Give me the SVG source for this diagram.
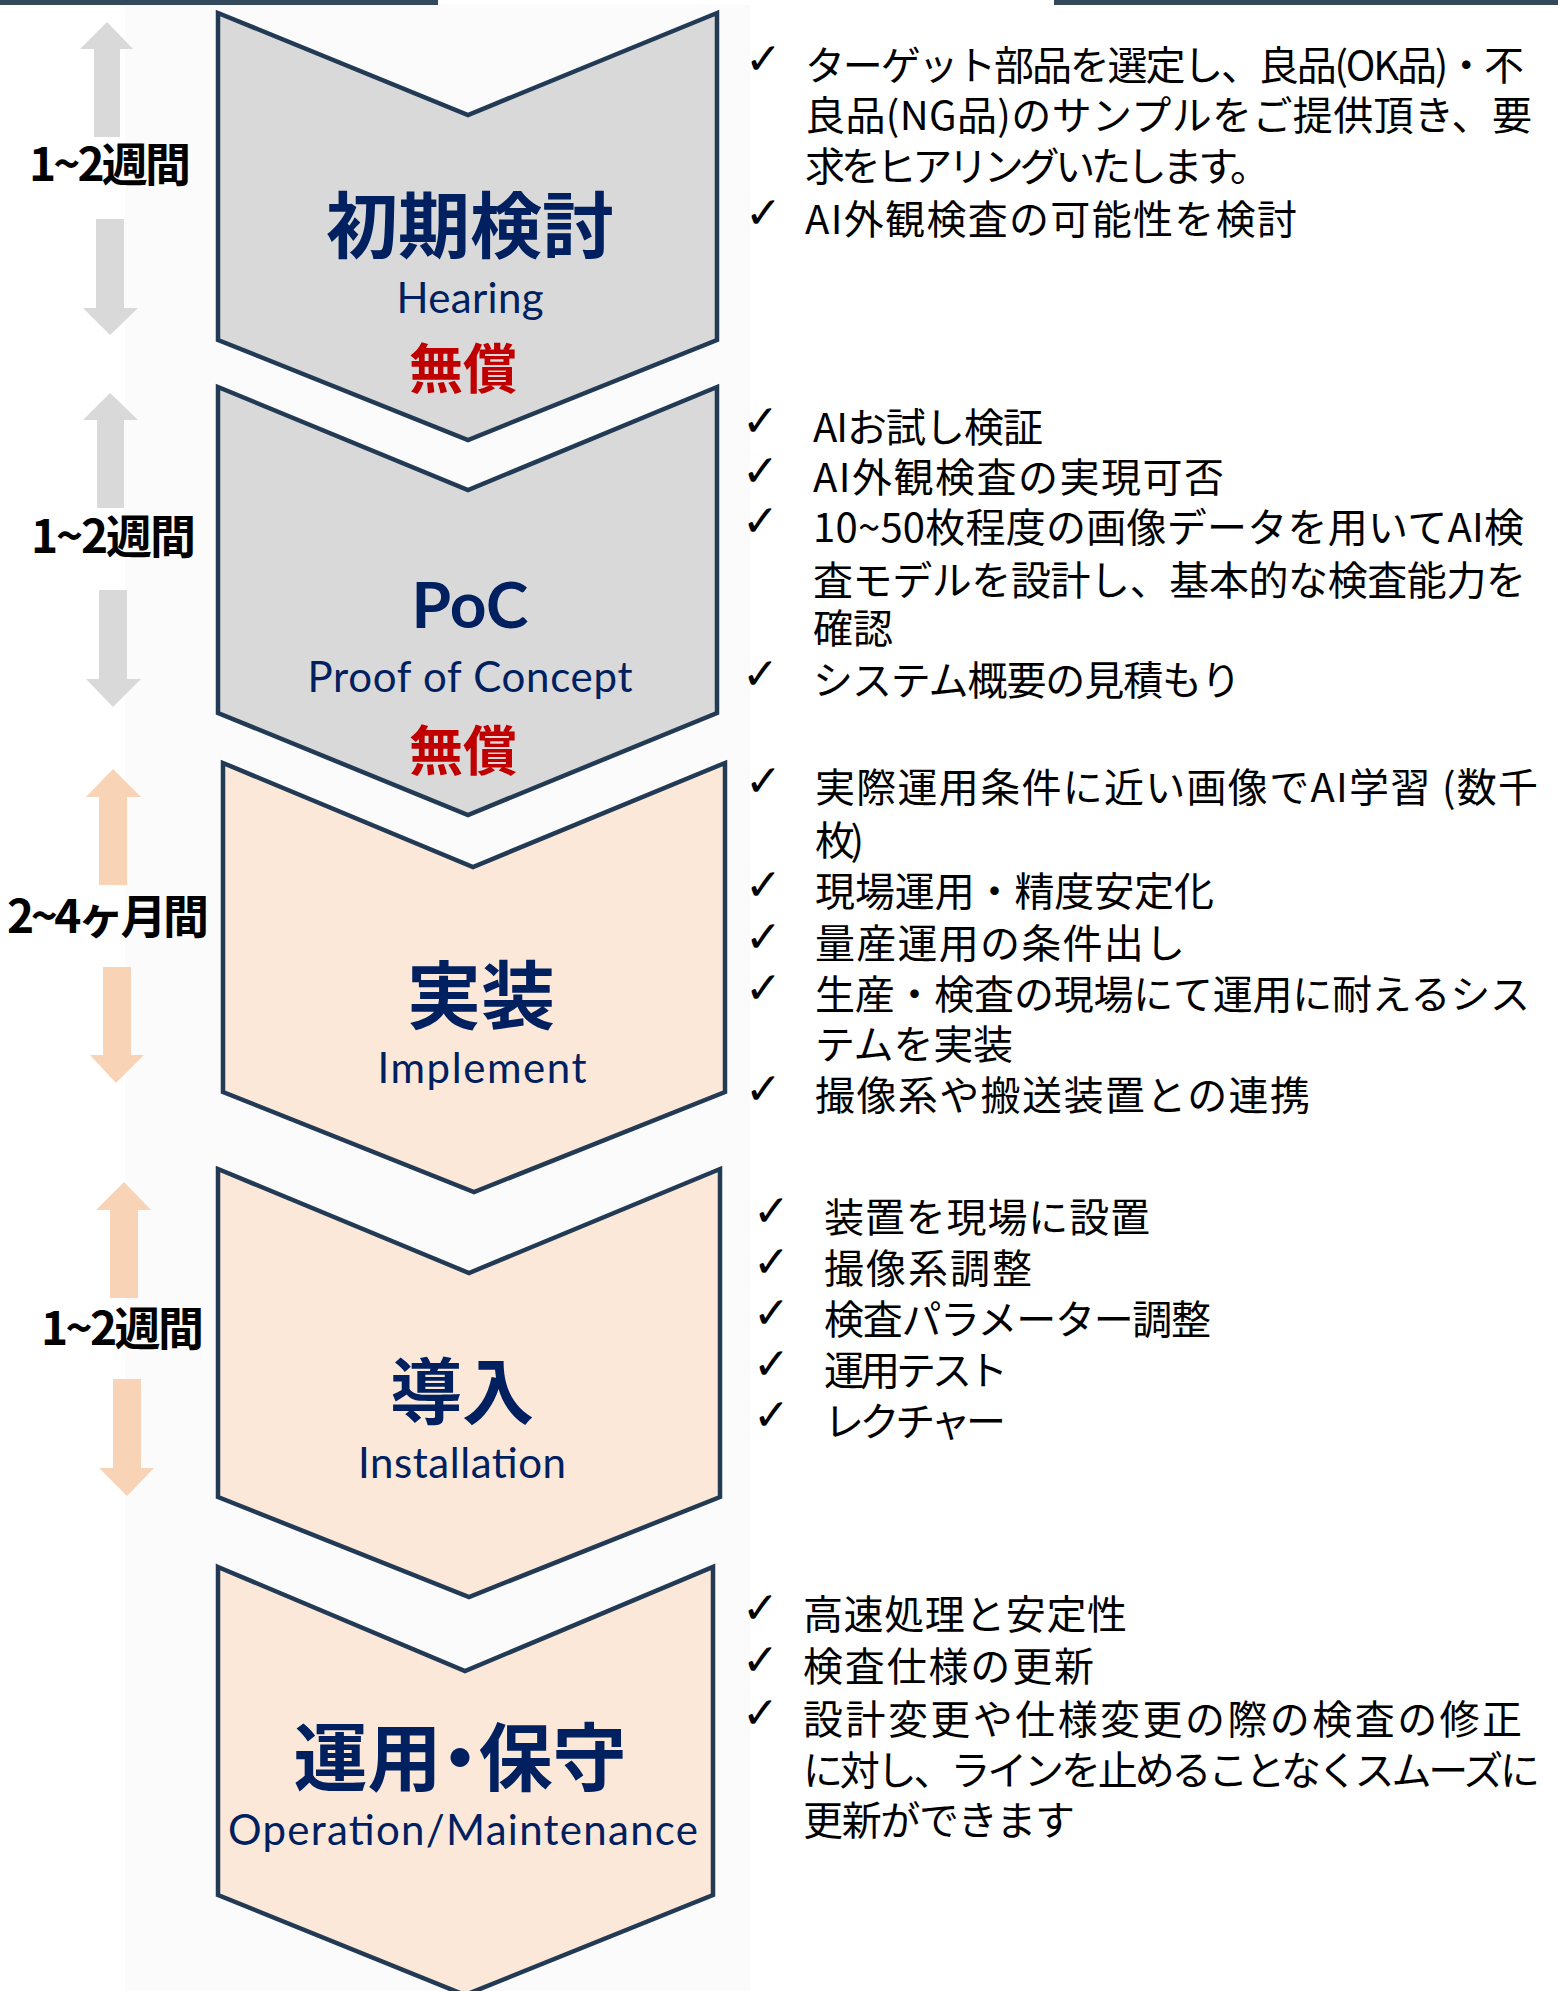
<svg xmlns="http://www.w3.org/2000/svg" width="1558" height="1991" viewBox="0 0 1558 1991">
<style>
.chev{stroke:#223A54;stroke-width:4.5;stroke-linejoin:miter}
.gray{fill:#D9D9D9}
.peach{fill:#FBE8D9}
.title{font-family:'Noto Sans CJK JP',sans-serif;font-weight:700;fill:#002060;text-anchor:middle}
.sub{font-family:Lato,'Noto Sans',sans-serif;font-size:42px;fill:#002060;text-anchor:middle}
.free{font-family:'Noto Sans CJK JP',sans-serif;font-weight:700;font-size:54px;fill:#C00000;text-anchor:middle}
.dur{font-family:'Noto Sans CJK JP',sans-serif;font-weight:700;font-size:46px;fill:#000}
.item{font-family:'Noto Sans CJK JP',sans-serif;font-size:40px;fill:#000}
.chk{font-family:'DejaVu Sans',sans-serif;font-size:44px;font-weight:700;fill:#000}
.arrG{fill:#D9D9D9}
.arrP{fill:#F9D3B5}
</style>
<rect width="1558" height="1991" fill="#FFFFFF"/>
<rect x="125" y="5" width="625" height="1986" fill="#FBFBFC"/>
<rect x="0" y="0" width="438" height="5" fill="#34495C"/>
<rect x="1054" y="0" width="504" height="5" fill="#34495C"/>

<g id="connectors">
<polygon class="arrG" points="107,22 133,49 120,49 120,137 94,137 94,49 80,49"/>
<polygon class="arrG" points="96,219 124,219 124,308 138,308 110,335 83,308 96,308"/>
<polygon class="arrG" points="110,393 138,420 124,420 124,508 97,508 97,420 83,420"/>
<polygon class="arrG" points="99,590 127,590 127,679 141,679 113,707 86,679 99,679"/>
<polygon class="arrP" points="113,769 141,797 127,797 127,885 99,885 99,797 86,797"/>
<polygon class="arrP" points="103,967 131,967 131,1055 144,1055 116,1083 90,1055 103,1055"/>
<polygon class="arrP" points="124,1182 151,1210 138,1210 138,1298 110,1298 110,1210 96,1210"/>
<polygon class="arrP" points="113,1379 141,1379 141,1468 154,1468 127,1496 99,1468 113,1468"/>
</g>

<g id="durations">
<text class="dur" x="29" y="181" textLength="162">1~2週間</text>
<text class="dur" x="31" y="553" textLength="165">1~2週間</text>
<text class="dur" x="7" y="933" textLength="202">2~4ヶ月間</text>
<text class="dur" x="41" y="1345" textLength="163">1~2週間</text>
</g>

<g id="step-hearing">
<polygon class="chev gray" points="218,13 468,115 717,13 717,340 468,440 218,340"/>
<text class="title" x="470" y="252" font-size="72">初期検討</text>
<text class="sub" x="470" y="313" textLength="147">Hearing</text>
<text class="free" x="463" y="389">無償</text>
</g>

<g id="step-poc">
<polygon class="chev gray" points="218,387 468,490 717,387 717,713 468,815 218,713"/>
<text class="title" x="470" y="628" font-size="64" style="font-family:Lato,'Noto Sans',sans-serif">PoC</text>
<text class="sub" x="470" y="692" textLength="325">Proof of Concept</text>
<text class="free" x="463" y="771">無償</text>
</g>

<g id="step-implement">
<polygon class="chev peach" points="223,763 473,867 725,763 725,1092 474,1192 223,1092"/>
<text class="title" x="481" y="1023" font-size="74">実装</text>
<text class="sub" x="482" y="1083" textLength="209">Implement</text>
</g>

<g id="step-installation">
<polygon class="chev peach" points="218,1169 469,1273 720,1169 720,1497 469,1597 218,1497"/>
<text class="title" x="462" y="1418" font-size="72">導入</text>
<text class="sub" x="462" y="1478" textLength="208">Installation</text>
</g>

<g id="step-operation">
<polygon class="chev peach" points="218,1567 465,1671 713,1567 713,1895 465,1995 218,1895"/>
<text class="title" x="460" y="1785" font-size="74" style="font-feature-settings:'palt' 1">運用・保守</text>
<text class="sub" x="463" y="1845" textLength="470">Operation/Maintenance</text>
</g>

<g id="notes-hearing">
<text class="chk" x="745" y="74">✓</text>
<text class="item" x="805" y="80" textLength="719">ターゲット部品を選定し、良品(OK品)・不</text>
<text class="item" x="805" y="130" textLength="727">良品(NG品)のサンプルをご提供頂き、要</text>
<text class="item" x="805" y="181" textLength="465">求をヒアリングいたします。</text>
<text class="chk" x="745" y="228">✓</text>
<text class="item" x="805" y="234" textLength="492">AI外観検査の可能性を検討</text>
</g>

<g id="notes-poc">
<text class="chk" x="742" y="436">✓</text>
<text class="item" x="813" y="442" textLength="230">AIお試し検証</text>
<text class="chk" x="742" y="486">✓</text>
<text class="item" x="813" y="492" textLength="411">AI外観検査の実現可否</text>
<text class="chk" x="742" y="536">✓</text>
<text class="item" x="813" y="542" textLength="711">10~50枚程度の画像データを用いてAI検</text>
<text class="item" x="813" y="595" textLength="713">査モデルを設計し、基本的な検査能力を</text>
<text class="item" x="813" y="643" textLength="80">確認</text>
<text class="chk" x="742" y="689">✓</text>
<text class="item" x="813" y="695" textLength="428">システム概要の見積もり</text>
</g>

<g id="notes-implement">
<text class="chk" x="745" y="796">✓</text>
<text class="item" x="815" y="802" textLength="723">実際運用条件に近い画像でAI学習 (数千</text>
<text class="item" x="815" y="855" textLength="49">枚)</text>
<text class="chk" x="745" y="900">✓</text>
<text class="item" x="815" y="906" textLength="399">現場運用・精度安定化</text>
<text class="chk" x="745" y="952">✓</text>
<text class="item" x="815" y="958" textLength="370">量産運用の条件出し</text>
<text class="chk" x="745" y="1003">✓</text>
<text class="item" x="815" y="1009" textLength="715">生産・検査の現場にて運用に耐えるシス</text>
<text class="item" x="815" y="1059" textLength="198">テムを実装</text>
<text class="chk" x="745" y="1104">✓</text>
<text class="item" x="815" y="1110" textLength="495">撮像系や搬送装置との連携</text>
</g>

<g id="notes-installation">
<text class="chk" x="753" y="1226">✓</text>
<text class="item" x="824" y="1232" textLength="326">装置を現場に設置</text>
<text class="chk" x="753" y="1277">✓</text>
<text class="item" x="824" y="1283" textLength="208">撮像系調整</text>
<text class="chk" x="753" y="1328">✓</text>
<text class="item" x="824" y="1334" textLength="387">検査パラメーター調整</text>
<text class="chk" x="753" y="1379">✓</text>
<text class="item" x="824" y="1385" textLength="184">運用テスト</text>
<text class="chk" x="753" y="1430">✓</text>
<text class="item" x="824" y="1436" textLength="182">レクチャー</text>
</g>

<g id="notes-operation">
<text class="chk" x="742" y="1623">✓</text>
<text class="item" x="803" y="1629" textLength="324">高速処理と安定性</text>
<text class="chk" x="742" y="1675">✓</text>
<text class="item" x="803" y="1681" textLength="291">検査仕様の更新</text>
<text class="chk" x="742" y="1728">✓</text>
<text class="item" x="803" y="1734" textLength="719">設計変更や仕様変更の際の検査の修正</text>
<text class="item" x="803" y="1785" textLength="737">に対し、ラインを止めることなくスムーズに</text>
<text class="item" x="803" y="1835" textLength="272">更新ができます</text>
</g>
</svg>
